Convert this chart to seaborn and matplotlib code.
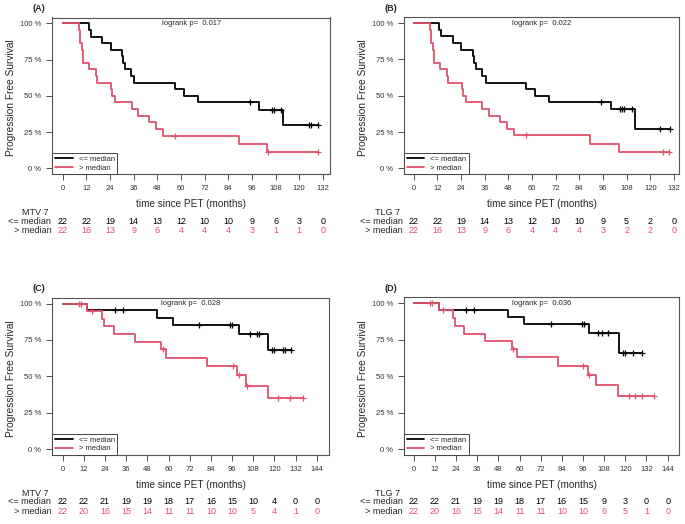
import numpy as np
import matplotlib
matplotlib.use("Agg")
import matplotlib.pyplot as plt
import seaborn as sns

sns.set_theme(style="white")
plt.rcParams["font.family"] = ["Liberation Sans", "DejaVu Sans"]

BLACK = "black"
RED = "#DF536B"

# ---- Panel A (MTV 7, first endpoint) ----
a_lo_t = [0, 13.5, 14.2, 19.7, 24.5, 29.9, 30.4, 31.6, 34.4, 36.3, 56.9, 61.3, 68.4, 99.6, 112.0, 129.5]
a_lo_s = [100, 95.5, 90.9, 86.4, 81.8, 77.3, 72.7, 68.2, 63.6, 59.1, 54.5, 50.0, 45.5, 40.4, 30.3, 30.3]
a_lo_c = [95.0, 106.3, 107.0, 110.6, 125.0, 126.2, 129.5]
a_hi_t = [0, 8.3, 9.0, 9.6, 10.5, 13.5, 16.7, 17.6, 24.5, 25.1, 26.5, 35.0, 38.3, 43.7, 47.3, 51.0, 89.5, 103.8, 129.5]
a_hi_s = [100, 95.5, 86.4, 81.8, 72.7, 68.2, 63.6, 59.1, 54.5, 50.0, 45.5, 40.9, 36.4, 31.8, 27.3, 22.7, 17.0, 11.4, 11.4]
a_hi_c = [56.9, 104.0, 129.5]
a_risk_lo = [22, 22, 19, 14, 13, 12, 10, 10, 9, 6, 3, 0]
a_risk_hi = [22, 16, 13, 9, 6, 4, 4, 4, 3, 1, 1, 0]

# ---- Panel B (TLG 7, first endpoint) ----
b_lo_t = [0, 13.0, 13.9, 19.8, 24.2, 30.0, 30.7, 31.5, 34.6, 36.6, 56.9, 61.3, 68.5, 100.0, 112.3, 129.8]
b_lo_s = [100, 95.5, 90.9, 86.4, 81.8, 77.3, 72.7, 68.2, 63.6, 59.1, 54.5, 50.0, 45.5, 40.6, 27.1, 27.1]
b_lo_c = [95.2, 104.5, 105.6, 106.6, 110.5, 124.9, 129.8]
b_hi_t = [0, 8.3, 8.9, 9.6, 10.5, 13.4, 16.8, 17.6, 24.4, 25.0, 26.4, 34.9, 38.3, 43.9, 47.3, 51.0, 89.6, 104.0, 129.4]
b_hi_s = [100, 95.5, 86.4, 81.8, 72.7, 68.2, 63.6, 59.1, 54.5, 50.0, 45.5, 40.9, 36.4, 31.8, 27.3, 22.7, 17.0, 11.4, 11.4]
b_hi_c = [56.9, 126.4, 129.4]
b_risk_lo = [22, 22, 19, 14, 13, 12, 10, 10, 9, 5, 2, 0]
b_risk_hi = [22, 16, 13, 9, 6, 4, 4, 4, 3, 2, 2, 0]

# ---- Panel C (MTV 7, second endpoint) ----
c_lo_t = [0, 14.0, 53.3, 62.7, 99.8, 116.2, 129.3]
c_lo_s = [100, 95.5, 90.4, 85.4, 79.3, 67.9, 67.9]
c_lo_c = [29.7, 34.4, 77.5, 94.9, 96.2, 106.2, 110.2, 111.2, 118.5, 119.8, 124.7, 126.0, 129.3]
c_hi_t = [0, 14.0, 22.1, 23.2, 29.1, 40.8, 55.7, 58.4, 81.8, 99.0, 103.7, 116.2, 136.4]
c_hi_s = [100, 95.0, 89.7, 84.4, 79.2, 73.9, 68.6, 62.9, 57.2, 50.8, 43.6, 34.9, 34.9]
c_hi_c = [9.3, 10.4, 16.8, 56.7, 96.7, 99.8, 104.3, 122.3, 128.9, 136.4]
c_risk_lo = [22, 22, 21, 19, 19, 18, 17, 16, 15, 10, 4, 0, 0]
c_risk_hi = [22, 20, 16, 15, 14, 11, 11, 10, 10, 5, 4, 1, 0]

# ---- Panel D (TLG 7, second endpoint) ----
d_lo_t = [0, 14.4, 53.3, 62.7, 99.6, 116.4, 129.3]
d_lo_s = [100, 95.5, 90.4, 85.4, 79.3, 66.1, 66.1]
d_lo_c = [29.7, 34.4, 77.7, 95.2, 96.7, 104.3, 106.6, 110.4, 118.5, 119.8, 124.5, 129.3]
d_hi_t = [0, 14.4, 22.5, 23.4, 28.7, 40.4, 55.6, 58.4, 81.6, 99.0, 103.4, 116.0, 136.2]
d_hi_s = [100, 95.0, 89.7, 84.4, 79.2, 73.9, 68.6, 62.9, 57.2, 50.8, 43.6, 36.3, 36.3]
d_hi_c = [9.3, 10.6, 16.8, 56.5, 96.2, 99.6, 122.3, 125.5, 129.3, 136.2]
d_risk_lo = [22, 22, 21, 19, 19, 18, 17, 16, 15, 9, 3, 0, 0]
d_risk_hi = [22, 20, 16, 15, 14, 11, 11, 10, 10, 6, 5, 1, 0]

ticks_132 = list(range(0, 133, 12))
ticks_144 = list(range(0, 145, 12))
y_ticks = [0, 25, 50, 75, 100]
group_labels = ["<= median", "> median"]

W, H = 685, 524
fig = plt.figure(figsize=(W / 100, H / 100), dpi=100)


def surv_at(times, surv, c):
    idx = np.searchsorted(times, c, side="right") - 1
    return np.asarray(surv)[idx]


def draw_panel(box, lo, hi, ticks, xlim, risk_lo, risk_hi, group, pval, tag):
    l, t, r, b = box
    ax = fig.add_axes([l / W, (H - b) / H, (r - l) / W, (b - t) / H])

    # black curve first, red on top
    for (tt, ss, cc), col, lab in [(lo, BLACK, group_labels[0]), (hi, RED, group_labels[1])]:
        sns.lineplot(x=tt, y=ss, drawstyle="steps-post", color=col, lw=1.3,
                     estimator=None, label=lab, ax=ax)
        sns.scatterplot(x=cc, y=surv_at(tt, ss, cc), marker="+", s=24, color=col,
                        linewidth=0.9, zorder=3, ax=ax)

    ax.set_xlim(*xlim)
    ax.set_ylim(-4, 104)
    ax.set_xticks(ticks)
    ax.set_yticks(y_ticks)
    ax.set_yticklabels([f"{v} %" for v in y_ticks])
    ax.set_xlabel("")
    ax.set_ylabel("")
    ax.tick_params(bottom=True, left=True, direction="out", length=4, width=0.6,
                   labelsize=5.5, pad=4, colors="#333333")
    for sp in ax.spines.values():
        sp.set_color("#555555")
        sp.set_linewidth(0.8)

    leg = ax.legend(loc="lower left", borderaxespad=0, fontsize=5.5, frameon=True,
                    fancybox=False, framealpha=1, edgecolor="#444444",
                    handlelength=2.3, handletextpad=0.8, borderpad=0.35, labelspacing=0.15)
    leg.get_frame().set_linewidth(0.7)

    ax.text(0.5, 0.963, pval, transform=ax.transAxes, ha="center", va="center", fontsize=5.5)

    kw = dict(xycoords="axes fraction", textcoords="offset pixels", annotation_clip=False)
    ax.annotate(tag, xy=(0, 1), xytext=(-13, 9), ha="center", va="center",
                fontsize=6.5, fontweight="bold", **kw)
    ax.annotate("Progression Free Survival", xy=(0, 0.5), xytext=(-41, -2), rotation=90,
                ha="center", va="center", fontsize=7.3, **kw)
    ax.annotate("time since PET (months)", xy=(0.5, 0), xytext=(0, -30),
                ha="center", va="center", fontsize=7.2, **kw)
    ax.annotate(group, xy=(0, 0), xytext=(-4, -38), ha="right", va="center", fontsize=6.5, **kw)
    ax.annotate(group_labels[0], xy=(0, 0), xytext=(-1, -47), ha="right", va="center", fontsize=6.5, **kw)
    ax.annotate(group_labels[1], xy=(0, 0), xytext=(-1, -56), ha="right", va="center", fontsize=6.5, **kw)

    # numbers at risk
    for x, n_lo, n_hi in zip(ticks, risk_lo, risk_hi):
        ax.annotate(str(n_lo), xy=(x, 0), xycoords=("data", "axes fraction"), xytext=(0, -47),
                    textcoords="offset pixels", ha="center", va="center", fontsize=6.5,
                    color=BLACK, annotation_clip=False)
        ax.annotate(str(n_hi), xy=(x, 0), xycoords=("data", "axes fraction"), xytext=(0, -56),
                    textcoords="offset pixels", ha="center", va="center", fontsize=6.5,
                    color=RED, annotation_clip=False)
    return ax


draw_panel((52.3, 17.5, 330, 174.3), (a_lo_t, a_lo_s, a_lo_c), (a_hi_t, a_hi_s, a_hi_c),
           ticks_132, (-5.3, 135.6), a_risk_lo, a_risk_hi, "MTV 7", "logrank p=  0.017", "(A)")
draw_panel((404, 17.3, 679.3, 174.3), (b_lo_t, b_lo_s, b_lo_c), (b_hi_t, b_hi_s, b_hi_c),
           ticks_132, (-4.9, 134.7), b_risk_lo, b_risk_hi, "TLG 7", "logrank p=  0.022", "(B)")
draw_panel((52.3, 297.7, 329.3, 455), (c_lo_t, c_lo_s, c_lo_c), (c_hi_t, c_hi_s, c_hi_c),
           ticks_144, (-5.9, 151.1), c_risk_lo, c_risk_hi, "MTV 7", "logrank p=  0.028", "(C)")
draw_panel((404, 297.3, 679.3, 455), (d_lo_t, d_lo_s, d_lo_c), (d_hi_t, d_hi_s, d_hi_c),
           ticks_144, (-5.5, 150.6), d_risk_lo, d_risk_hi, "TLG 7", "logrank p=  0.036", "(D)")

fig.savefig("out.png", dpi=100)
